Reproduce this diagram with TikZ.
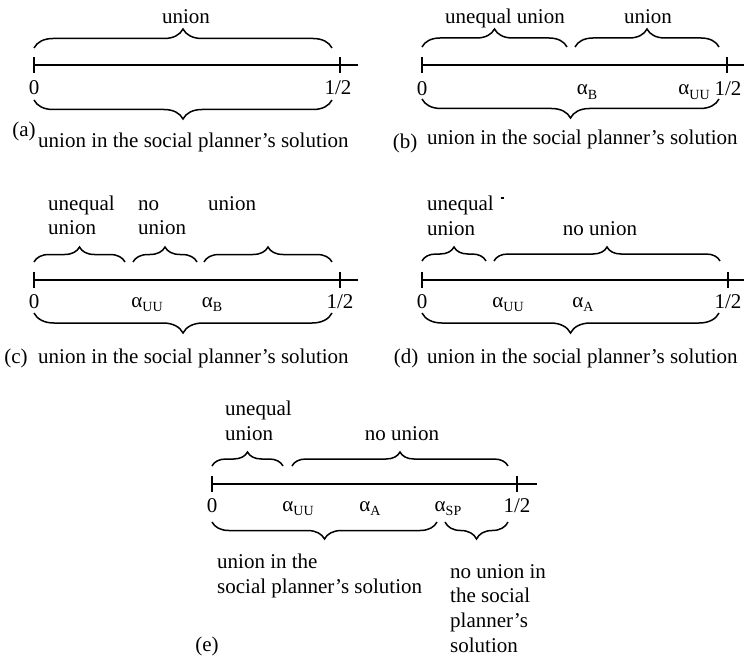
\documentclass[tikz,border=0pt]{standalone}
\usepackage{fontspec}
\setmainfont{Liberation Serif}
\usetikzlibrary{decorations.pathreplacing}
\newcommand{\alphsub}[1]{α\raisebox{-4.5pt}{\fontsize{14}{14}\selectfont #1}}
\begin{document}
\begin{tikzpicture}[x=1pt,y=-1pt,
  axis/.style={line width=1.9pt},
  brc/.style={decorate,decoration={brace,amplitude=#1},line width=1.5pt},
  brc/.default=18pt,
  lbl/.style={font=\fontsize{21}{25}\selectfont, inner sep=0pt, anchor=base},
  lblw/.style={lbl, anchor=base west}]
\useasboundingbox (0,0) rectangle (744,658);
% ---------- (a)
\coordinate (a0) at (34,65); \coordinate (ah) at (340,65); \coordinate (ae) at (358,65);
\draw[axis] (a0) -- (ae);
\draw[axis] ([yshift=8pt]a0) -- ([yshift=-8pt]a0);
\draw[axis] ([yshift=8pt]ah) -- ([yshift=-8pt]ah);
\draw[brc=19pt] (34,48) -- (332,48);
\draw[brc=19pt] (332,100) -- (34,100);
\node[lbl] (aTop) at (186,24) {union};
\node[lbl] (aL0) at (34,95) {0};
\node[lbl] (aLh) at (338,95) {1/2};
\node[lbl] (aCap) at (24,137) {(a)};
\node[lblw] (aTxt) at (38,147) {union in the social planner’s solution};
% ---------- (b)
\coordinate (b0) at (422,65); \coordinate (bh) at (727,65); \coordinate (be) at (744,65);
\draw[axis] (b0) -- (be);
\draw[axis] ([yshift=8pt]b0) -- ([yshift=-8pt]b0);
\draw[axis] ([yshift=8pt]bh) -- ([yshift=-8pt]bh);
\draw[brc=18pt] (422,47) -- (567,47);
\draw[brc=18pt] (575,47) -- (719,47);
\draw[brc=19pt] (719,99) -- (422,99);
\node[lbl] (bTop1) at (505,24) {unequal union};
\node[lbl] (bTop2) at (648,24) {union};
\node[lbl] (bL0) at (422,96) {0};
\node[lbl] (bLB) at (587,95) {\alphsub{B}};
\node[lbl] (bLUU) at (694,95) {\alphsub{UU}};
\node[lbl] (bLh) at (728,96) {1/2};
\node[lbl] (bCap) at (405,149) {(b)};
\node[lblw] (bTxt) at (427,145) {union in the social planner’s solution};
% ---------- (c)
\coordinate (c0) at (34,280); \coordinate (ch) at (340,280); \coordinate (ce) at (358,280);
\draw[axis] (c0) -- (ce);
\draw[axis] ([yshift=8pt]c0) -- ([yshift=-8pt]c0);
\draw[axis] ([yshift=8pt]ch) -- ([yshift=-8pt]ch);
\draw[brc=15pt] (34,262) -- (125,262);
\draw[brc=15pt] (133,262) -- (197,262);
\draw[brc=15pt] (204,262) -- (332,262);
\draw[brc=20pt] (332,313) -- (34,313);
\node[lblw] (cT1a) at (48,210) {unequal};
\node[lblw] (cT1b) at (48,234) {union};
\node[lblw] (cT2a) at (138,210) {no};
\node[lblw] (cT2b) at (138,234) {union};
\node[lblw] (cT3) at (208,210) {union};
\node[lbl] (cL0) at (34,308) {0};
\node[lbl] (cLUU) at (147,307) {\alphsub{UU}};
\node[lbl] (cLB) at (212,307) {\alphsub{B}};
\node[lbl] (cLh) at (340,308) {1/2};
\node[lbl] (cCap) at (16,363) {(c)};
\node[lblw] (cTxt) at (38,363) {union in the social planner’s solution};
% ---------- (d)
\coordinate (d0) at (422,280); \coordinate (dh) at (728,280); \coordinate (de) at (744,280);
\draw[axis] (d0) -- (de);
\draw[axis] ([yshift=8pt]d0) -- ([yshift=-8pt]d0);
\draw[axis] ([yshift=8pt]dh) -- ([yshift=-8pt]dh);
\draw[brc=14pt] (422,261) -- (486,261);
\draw[brc=14pt] (494,261) -- (720,261);
\draw[brc=20pt] (719,313) -- (422,313);
\node[lblw] (dT1a) at (427,210) {unequal};
\node[lblw] (dT1b) at (427,235) {union};
\draw[line width=1.2pt] (500.5,198) -- (503.5,198);
\node[lbl] (dT2) at (600,235) {no union};
\node[lbl] (dL0) at (422,308) {0};
\node[lbl] (dLUU) at (508,307) {\alphsub{UU}};
\node[lbl] (dLA) at (583,307) {\alphsub{A}};
\node[lbl] (dLh) at (728,308) {1/2};
\node[lbl] (dCap) at (406,363) {(d)};
\node[lblw] (dTxt) at (427,363) {union in the social planner’s solution};
% ---------- (e)
\coordinate (e0) at (212,484); \coordinate (eh) at (517,484); \coordinate (ee) at (537,484);
\draw[axis] (e0) -- (ee);
\draw[axis] ([yshift=8pt]e0) -- ([yshift=-8pt]e0);
\draw[axis] ([yshift=8pt]eh) -- ([yshift=-8pt]eh);
\draw[brc=14pt] (212,466) -- (283,466);
\draw[brc=14pt] (292,466) -- (508,466);
\draw[brc=17pt] (437,522) -- (212,522);
\draw[brc=17pt] (508,522) -- (445,522);
\node[lblw] (eT1a) at (225,415) {unequal};
\node[lblw] (eT1b) at (225,440) {union};
\node[lbl] (eT2) at (402,440) {no union};
\node[lbl] (eL0) at (212,512) {0};
\node[lbl] (eLUU) at (298,511) {\alphsub{UU}};
\node[lbl] (eLA) at (370,511) {\alphsub{A}};
\node[lbl] (eLSP) at (448,511) {\alphsub{SP}};
\node[lbl] (eLh) at (517,512) {1/2};
\node[lblw] (eB1a) at (217,568) {union in the};
\node[lblw] (eB1b) at (217,593) {social planner’s solution};
\node[lblw] (eB2a) at (450,578) {no union in};
\node[lblw] (eB2b) at (450,602) {the social};
\node[lblw] (eB2c) at (450,627) {planner’s};
\node[lblw] (eB2d) at (450,652) {solution};
\node[lbl] (eCap) at (207,651) {(e)};
\end{tikzpicture}
\end{document}
